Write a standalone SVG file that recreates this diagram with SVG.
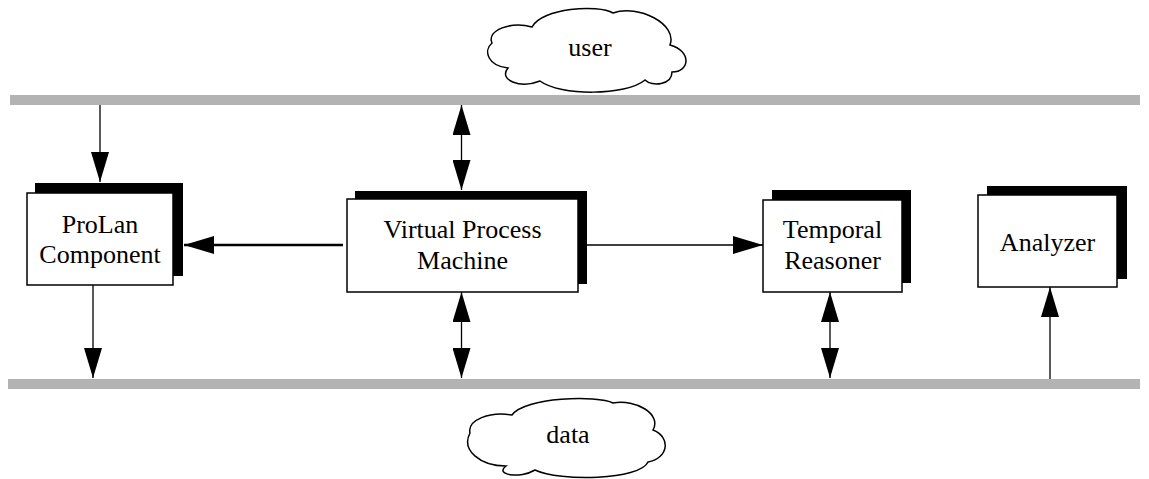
<svg xmlns="http://www.w3.org/2000/svg" width="1149" height="479" viewBox="0 0 1149 479">
  <style>
    .bus { fill: #b3b3b3; }
    .shadow { fill: #000; }
    .box { fill: #fff; stroke: #000; stroke-width: 1.5; }
    .cloud { fill: #fff; stroke: #000; stroke-width: 1.5; }
    .label { font-family: "Liberation Serif", "Times New Roman", serif; font-size: 26px; fill: #000; text-anchor: middle; }
    .wire { fill: none; stroke: #000; stroke-width: 1.3; }
    .wire.heavy { stroke-width: 2.6; }
  </style>
  <defs>
    <marker id="head" markerUnits="userSpaceOnUse" markerWidth="30" markerHeight="18" viewBox="0 0 30 18" refX="30" refY="9" orient="auto-start-reverse">
      <path d="M0,0 L30,9 L0,18 Z" fill="#000"/>
    </marker>
  </defs>

  <!-- shared buses -->
  <rect class="bus" x="10" y="95" width="1130" height="10"/>
  <rect class="bus" x="8" y="379" width="1132" height="10"/>

  <!-- clouds -->
  <g id="user">
    <path class="cloud" d="M492,43 C486,30 512,21 532,27 C542,8 598,4 613,13 C638,4 678,24 670,45 C692,51 690,72 672,72 C672,85 652,87 645,80 C626,96 560,96 540,81 C520,89 498,80 508,68 C488,66 483,51 492,43 Z"/>
    <text class="label" x="590" y="56">user</text>
  </g>
  <g id="data">
    <path class="cloud" d="M470,433 C467,420 490,411 512,415 C524,397 598,395 613,403 C636,399 662,414 653,430 C671,437 669,458 648,462 C640,480 560,482 535,470 C520,479 494,475 506,466 C480,466 461,450 470,433 Z"/>
    <text class="label" x="568" y="443">data</text>
  </g>

  <!-- components -->
  <g id="prolan">
    <rect class="shadow" x="35" y="183" width="148" height="93"/>
    <rect class="box" x="27" y="193" width="146" height="92"/>
    <text class="label" x="100" y="233">ProLan</text>
    <text class="label" x="100" y="263">Component</text>
  </g>
  <g id="vpm">
    <rect class="shadow" x="355" y="191" width="232" height="93"/>
    <rect class="box" x="347" y="199" width="231" height="93"/>
    <text class="label" x="462.5" y="238">Virtual Process</text>
    <text class="label" x="462.5" y="269">Machine</text>
  </g>
  <g id="temporal">
    <rect class="shadow" x="772" y="190" width="139" height="93"/>
    <rect class="box" x="763" y="200" width="139" height="92"/>
    <text class="label" x="832.5" y="238">Temporal</text>
    <text class="label" x="832.5" y="269">Reasoner</text>
  </g>
  <g id="analyzer">
    <rect class="shadow" x="987" y="186" width="140" height="93"/>
    <rect class="box" x="978" y="195" width="139" height="92"/>
    <text class="label" x="1047.5" y="251">Analyzer</text>
  </g>

  <!-- connectors -->
  <g id="connectors">
    <path class="wire" d="M100,105 V182" marker-end="url(#head)"/>
    <path class="wire" d="M93,285 V378" marker-end="url(#head)"/>
    <path class="wire" d="M461.5,105 V190" marker-start="url(#head)" marker-end="url(#head)"/>
    <path class="wire" d="M461.5,292 V378" marker-start="url(#head)" marker-end="url(#head)"/>
    <path class="wire" d="M830,292 V378" marker-start="url(#head)" marker-end="url(#head)"/>
    <path class="wire" d="M1050,379 V287" marker-end="url(#head)"/>
    <path class="wire heavy" d="M343,245 H184" marker-end="url(#head)"/>
    <path class="wire" d="M587,245 H763" marker-end="url(#head)"/>
  </g>
</svg>
